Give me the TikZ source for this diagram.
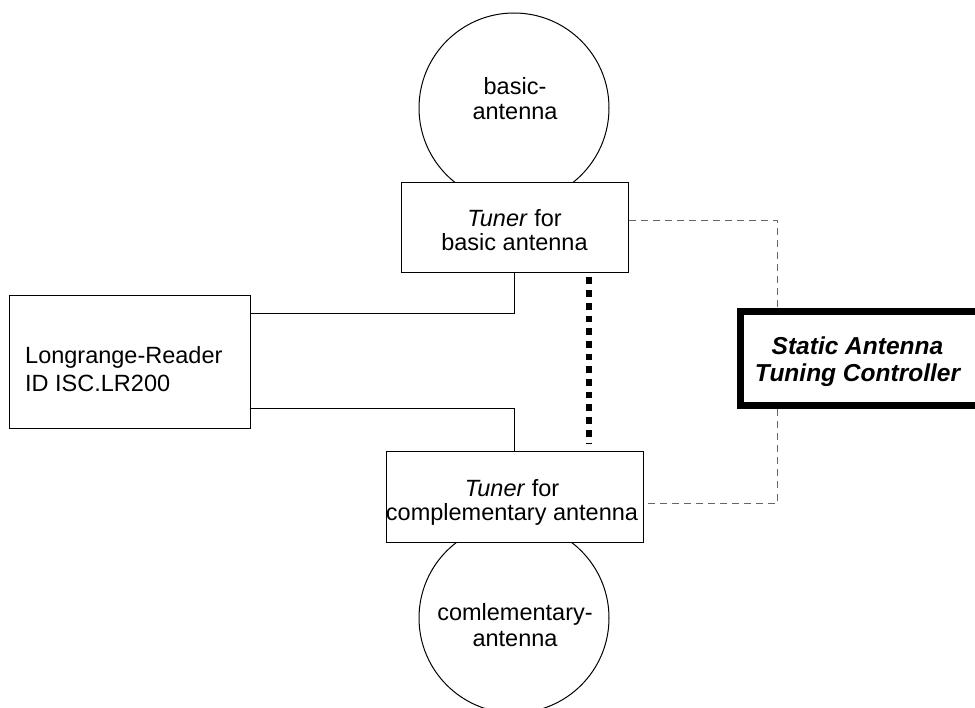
\documentclass[tikz,border=0pt]{standalone}
\usepackage{fontspec}
\setmainfont{Liberation Sans}
\usetikzlibrary{calc}
\begin{document}
\begin{tikzpicture}[x=1pt,y=-1pt,
  frame/.style={draw=black, line width=1pt, fill=white, rectangle, inner sep=0pt},
  antenna/.style={draw=black, line width=1pt, fill=white, circle, inner sep=0pt, minimum size=190pt},
  txt/.style={inner sep=0pt, align=center},
  wire/.style={draw=black, line width=1pt},
  ctl/.style={draw=black!60, line width=1pt, dash pattern=on 7pt off 5pt},
  link/.style={draw=black, line width=6.7pt, dash pattern=on 6.7pt off 6pt},
  ctrlbox/.style={draw=black, line width=7pt, fill=white, rectangle, inner sep=0pt}]
\useasboundingbox (0,0) rectangle (975,708);

% antennas (drawn first so the tuner boxes cover them)
\node[antenna] (topant) at (514,108) {};
\node[antenna] (botant) at (514,618) {};

% boxes
\node[frame, minimum width=227pt, minimum height=90pt] (toptuner) at (514.5,228) {};
\node[frame, minimum width=257pt, minimum height=90pt] (bottuner) at (514.5,497) {};
\node[frame, minimum width=241pt, minimum height=133pt] (reader) at (129.5,362.5) {};
\node[ctrlbox, minimum width=246pt, minimum height=94.5pt] (ctrl) at (863,358.75) {};

% labels
\node[txt, font=\fontsize{23.5}{25}\selectfont] (topant-t) at (515,99) {basic-\\antenna};
\node[txt, font=\fontsize{23.5}{23.5}\selectfont] (toptuner-t) at (514.5,230) {\textit{Tuner} for\\basic antenna};
\node[txt, align=left, anchor=west, font=\fontsize{23.5}{28.4}\selectfont] (reader-t) at (25,369) {Longrange-Reader\\ID ISC.LR200};
\node[txt, font=\fontsize{23.5}{24}\selectfont] (bottuner-t) at (512,502) {\textit{Tuner} for\\complementary antenna};
\node[txt, font=\fontsize{23.5}{26}\selectfont] (botant-t) at (515,625) {comlementary-\\antenna};
\node[txt, font=\fontsize{24.5}{27}\selectfont\bfseries\itshape] (ctrl-t) at (857.5,362) {Static Antenna\\Tuning Controller};

% reader to tuners
\draw[wire] ($(reader.north east)+(0,18)$) -| (toptuner.south);
\draw[wire] ($(reader.south east)+(0,-21)$) -| (bottuner.north);

% coupling between the two tuners
\draw[link] ($(toptuner.south)+(74.5,4)$) -- ($(bottuner.north)+(74.5,-7)$);

% controller to tuners
\draw[ctl] ($(toptuner.east)+(0,-7)$) -| ($(ctrl.north west)+(40.5,0)$);
\draw[ctl] ($(ctrl.south west)+(40.5,0)$) |- ($(bottuner.east)+(0,6)$);
\end{tikzpicture}
\end{document}
